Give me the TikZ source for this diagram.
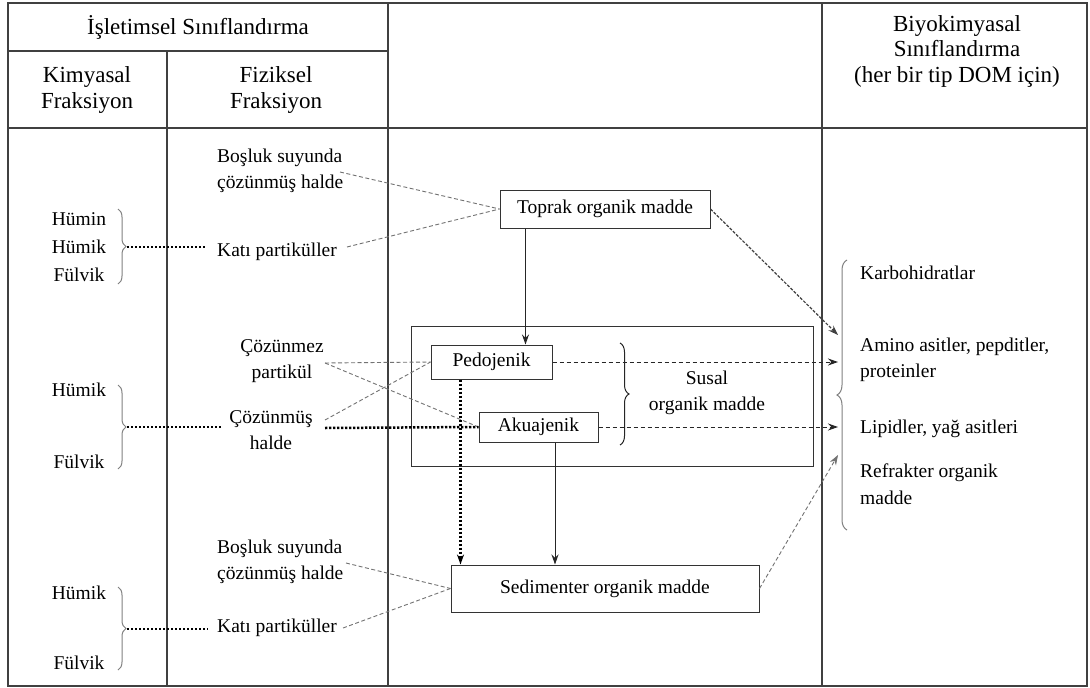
\documentclass[tikz,border=0pt]{standalone}
\usepackage{fontspec}
\setmainfont{Liberation Serif}
\usetikzlibrary{arrows.meta,decorations.pathreplacing}

\begin{document}
\begin{tikzpicture}[x=1pt,y=-1pt,
  gridline/.style={draw=black!75,line width=1.1pt},
  hdr/.style={font=\fontsize{23}{25.5}\selectfont,align=center,inner sep=0pt,text=black},
  txt/.style={font=\fontsize{19.5}{26.5}\selectfont,inner sep=3pt,text=black},
  pbox/.style={draw=black!80,line width=1pt,fill=white,font=\fontsize{19.5}{24}\selectfont,inner sep=0pt,text=black},
  grp/.style={draw=black!50,line width=1pt,decorate,decoration={brace,amplitude=8pt}},
  faint/.style={draw=black!55,line width=0.9pt,dash pattern=on 4pt off 2.5pt},
  denseline/.style={draw=black,line width=2.5pt,dash pattern=on 2.4pt off 1.6pt},
  dashline/.style={draw=black!85,line width=1pt,dash pattern=on 4pt off 3pt},
  arr/.style={-{Stealth[length=10pt,width=7pt]}},
 ]
\fill[white] (0,0) rectangle (1090,688);
\useasboundingbox (0,0) rectangle (1090,688);

% table grid
\draw[gridline] (8,3) rectangle (1087,686);
\draw[gridline] (8,51) -- (388,51);
\draw[gridline] (8,128) -- (1087,128);
\draw[gridline] (167,51) -- (167,686);
\draw[gridline] (388,3) -- (388,686);
\draw[gridline] (822,3) -- (822,686);

% headers
\node[hdr] (h1) at (198,27) {İşletimsel Sınıflandırma};
\node[hdr] (h2) at (87,90) {Kimyasal\\Fraksiyon};
\node[hdr] (h3) at (276,90) {Fiziksel\\Fraksiyon};
\node[hdr] (h4) at (957,51) {Biyokimyasal\\Sınıflandırma\\(her bir tip DOM için)};

% chemical fractions
\node[txt,align=center,font=\fontsize{19.5}{28}\selectfont] (c1) at (79,247) {Hümin\\Hümik\\Fülvik};
\node[txt] (c2a) at (79,390) {Hümik};
\node[txt] (c2b) at (79,462) {Fülvik};
\node[txt] (c3a) at (79,593) {Hümik};
\node[txt] (c3b) at (79,663) {Fülvik};

\draw[grp] (118,209) -- (118,284);
\draw[grp] (118,385) -- (118,469);
\draw[grp] (118,587) -- (118,670);
\coordinate (b1) at (127,247);
\coordinate (b2) at (127,427);
\coordinate (b3) at (127,629);

% physical fractions
\node[txt,align=left,anchor=west] (f1) at (214,171) {Boşluk suyunda\\çözünmüş halde};
\node[txt,anchor=west] (f2) at (214,252) {Katı partiküller};
\node[txt,align=center] (f3) at (282,361) {Çözünmez\\partikül};
\node[txt,align=center] (f4) at (271,430) {Çözünmüş\\halde};
\node[txt,align=left,anchor=west] (f5) at (214,562) {Boşluk suyunda\\çözünmüş halde};
\node[txt,anchor=west] (f6) at (214,628) {Katı partiküller};

\coordinate (e1) at (205,247);
\coordinate (e2) at (222,427);
\coordinate (e3) at (208,629);
\draw[denseline] (b1) -- (e1);
\draw[denseline] (b2) -- (e2);
\draw[denseline] (b3) -- (e3);

% pools of organic matter
\node[draw=black!80,line width=1pt,minimum width=402pt,minimum height=140pt,inner sep=0pt] (susal) at (612,396) {};
\node[pbox,minimum width=210pt,minimum height=38pt] (toprak) at (605,209) {Toprak organik madde};
\node[pbox,minimum width=121pt,minimum height=34pt] (pedo) at (491.5,362) {Pedojenik};
\node[pbox,minimum width=119pt,minimum height=30pt] (aku) at (538.5,427) {Akuajenik};
\node[pbox,minimum width=308pt,minimum height=47pt] (sed) at (605,588.5) {Sedimenter organik madde};
\node[txt,align=center] (sus) at (707,393) {Susal\\organik madde};
\draw[draw=black!85,line width=1pt,decorate,decoration={brace,amplitude=9pt}] (620,343) -- (620,445);

% inputs to soil organic matter
\coordinate (s1) at (340,172);
\coordinate (s2) at (347,247);
\draw[faint] (s1) -- (toprak.west);
\draw[faint] (s2) -- (toprak.west);

% inputs to sedimentary organic matter
\coordinate (s5) at (346,563);
\coordinate (s6) at (343,628);
\draw[faint] (s5) -- (sed.west);
\draw[faint] (s6) -- (sed.west);

% inputs to aquatic organic matter
\coordinate (p1) at (325,363);
\coordinate (p2) at (325,420);
\coordinate (p3) at (325,428);
\draw[faint] (p1) -- (pedo.west);
\draw[faint] (p1) -- (aku.west);
\draw[faint] (p2) -- (pedo.west);
\draw[denseline] (p3) -- (aku.west);

% flows between pools
\draw[draw=black!85,line width=1pt,arr] ([xshift=26pt]toprak.south west) -- ([xshift=26pt]toprak.south west |- pedo.north);
\draw[denseline,-{Stealth[length=10pt,width=7pt]}] ([xshift=30pt]pedo.south west) -- ([xshift=30pt]pedo.south west |- sed.north);
\draw[draw=black!85,line width=1pt,arr] ([xshift=16.5pt]aku.south) -- ([xshift=16.5pt]aku.south |- sed.north);

% biochemical classes
\draw[grp,decoration={brace,amplitude=10pt}] (847,530) -- (847,260);
\node[txt,anchor=west] (k1) at (857,273) {Karbohidratlar};
\node[txt,align=left,anchor=west] (k2) at (857,360) {Amino asitler, pepditler,\\proteinler};
\node[txt,anchor=west] (k3) at (857,429) {Lipidler, yağ asitleri};
\node[txt,align=left,anchor=west] (k4) at (857,484) {Refrakter organik\\madde};

\coordinate (ta) at (838,335);
\coordinate (tb) at (838,362);
\coordinate (tc) at (838,427);
\coordinate (td) at (838,455);
\draw[draw=black!75,line width=1.2pt,dash pattern=on 3pt off 1.5pt,arr] (toprak.east) -- (ta);
\draw[dashline,arr] (pedo.east) -- (tb);
\draw[dashline,arr] (aku.east) -- (tc);
\draw[faint,arr] (sed.east) -- (td);
\end{tikzpicture}
\end{document}
